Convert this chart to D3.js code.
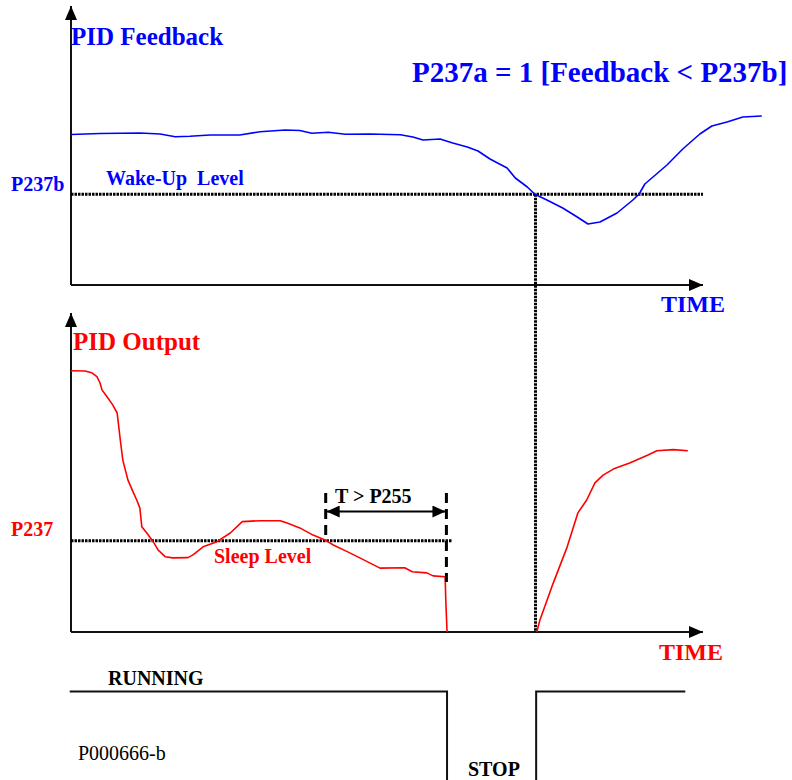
<!DOCTYPE html>
<html>
<head>
<meta charset="utf-8">
<script src="https://cdn.jsdelivr.net/npm/d3@7"></script>
<style>
  html, body { margin: 0; padding: 0; background: #fff; }
  svg { display: block; }
  text { font-family: "Liberation Serif", "Times New Roman", serif; white-space: pre; }
</style>
</head>
<body>
<div id="chart"></div>
<script>
// ---------------- DATA ----------------
// time axis: 0..100 (arbitrary time units), values in % of span
const feedbackTime = [0, 4.6, 10.9, 14.1, 16.5, 18.8, 22.0, 26.7, 29.9, 33.9, 36.2, 38.1, 40.7, 43.4, 47.3,
  52.1, 54.1, 55.7, 58.4, 60.4, 62.7, 64.4, 66.3, 69.0, 70.3, 72.2, 73.4, 75.3, 77.8, 80.1, 81.8,
  83.7, 86.4, 88.9, 89.9, 90.8, 94.3, 96.8, 99.5, 101.4, 103.8, 106.3, 109.3];
const feedbackValue = [60.2, 60.6, 60.8, 60.4, 59.3, 59.5, 60.0, 60.0, 61.3, 62.0, 61.8, 60.7, 61.1, 60.3, 60.4,
  60.1, 59.2, 58.0, 58.4, 56.8, 55.2, 53.6, 50.4, 46.8, 42.8, 39.2, 36.3, 34.0, 30.8, 27.2, 24.4,
  25.2, 28.8, 34.0, 36.4, 40.4, 48.0, 54.4, 60.4, 63.6, 65.2, 67.2, 67.6];

const outputTimeA = [0, 2.2, 3.3, 4.1, 4.6, 4.9, 5.7, 6.6, 7.3, 7.4, 7.8, 8.2, 9.0, 9.8, 10.4, 10.9, 11.2,
  12.0, 13.0, 13.8, 14.9, 16.1, 18.5, 19.3, 20.9, 23.1, 25.2, 27.1, 29.9, 33.1, 34.2, 36.2, 38.3,
  40.2, 41.5, 43.7, 45.7, 48.9, 52.8, 54.0, 56.3, 57.3, 59.2, 59.3, 59.5];
const outputValueA = [87.1, 87.0, 86.4, 85.1, 83.0, 80.7, 78.4, 75.7, 73.0, 71.3, 64.0, 57.3, 50.7, 46.8, 44.0, 41.3, 35.1,
  33.0, 30.1, 27.3, 25.1, 24.7, 24.8, 25.7, 28.4, 30.1, 33.0, 36.8, 37.1, 37.1, 36.3, 34.7, 32.3,
  30.7, 29.0, 26.8, 24.7, 21.3, 21.4, 20.1, 19.7, 18.7, 18.4, 10.7, 0];

const outputTimeB = [73.7, 74.2, 76.3, 78.5, 80.2, 81.6, 82.9, 84.2, 85.8, 88.4, 91.3, 92.7, 95.3, 97.6];
const outputValueB = [0, 4.0, 16.3, 28.3, 39.7, 44.0, 49.7, 52.3, 54.3, 56.3, 59.0, 60.4, 60.8, 60.4];

const wakeLevel = 36.3;      // P237b
const sleepLevel = 30.4;     // P237
const timerStart = 40.3;     // start of T > P255
const sleepTime = 59.4;      // drive stops
const wakeTime = 73.5;       // drive restarts
const sleepLineEnd = 60.3;
const axisEnd = 100;

const runTime  = [-0.2, 59.5, 59.5, 73.6, 73.6, 97.2];
const runState = [1, 1, 0, 0, 1, 1];

const labels = {
  fbTitle: "PID Feedback",
  condition: "P237a = 1 [Feedback < P237b]",
  time: "TIME",
  wake: "Wake-Up  Level",
  wakeParam: "P237b",
  outTitle: "PID Output",
  sleepParam: "P237",
  sleep: "Sleep Level",
  timer: "T > P255",
  running: "RUNNING",
  stop: "STOP",
  code: "P000666-b"
};

// ---------------- LAYOUT ----------------
const W = 792, H = 780;
const BLUE = "#0000ff", RED = "#ff0000", INK = "#000";

const svg = d3.select("#chart").append("svg").attr("width", W).attr("height", H);

const x = d3.scaleLinear().domain([0, 100]).range([71, 703]);
const yFb = d3.scaleLinear().domain([0, 100]).range([285, 35]);
const yOut = d3.scaleLinear().domain([0, 100]).range([632, 332]);
const yRun = d3.scaleLinear().domain([0, 1]).range([840, 691.5]);

const defs = svg.append("defs");
defs.append("marker").attr("id", "axArrow")
  .attr("viewBox", "0 0 14 12").attr("refX", 14).attr("refY", 6)
  .attr("markerUnits", "userSpaceOnUse")
  .attr("markerWidth", 14).attr("markerHeight", 12).attr("orient", "auto-start-reverse")
  .append("path").attr("d", "M0,0 L14,6 L0,12 Z").attr("fill", INK);
defs.append("marker").attr("id", "dimArrow")
  .attr("viewBox", "0 0 13 12").attr("refX", 13).attr("refY", 6)
  .attr("markerUnits", "userSpaceOnUse")
  .attr("markerWidth", 13).attr("markerHeight", 12).attr("orient", "auto-start-reverse")
  .append("path").attr("d", "M0,0 L13,6 L0,12 Z").attr("fill", INK);

// ---------- axes ----------
function axes(yScale, topPx) {
  const x0 = x(0), y0 = yScale(0);
  svg.append("line").attr("x1", x0).attr("y1", y0).attr("x2", x0).attr("y2", topPx)
    .attr("stroke", "#111").attr("stroke-width", 2).attr("marker-end", "url(#axArrow)");
  svg.append("line").attr("x1", x0).attr("y1", y0).attr("x2", x(axisEnd)).attr("y2", y0)
    .attr("stroke", "#111").attr("stroke-width", 2).attr("marker-end", "url(#axArrow)");
}
axes(yFb, 6);
axes(yOut, 313);

// ---------- dotted reference lines ----------
const dotted = sel => sel.attr("stroke", INK).attr("stroke-width", 3).attr("stroke-dasharray", "2.5,1").attr("fill", "none");

svg.append("line").attr("x1", x(0)).attr("x2", x(axisEnd))
  .attr("y1", yFb(wakeLevel)).attr("y2", yFb(wakeLevel)).call(dotted);
svg.append("line").attr("x1", x(0)).attr("x2", x(sleepLineEnd))
  .attr("y1", yOut(sleepLevel)).attr("y2", yOut(sleepLevel)).call(dotted);
svg.append("line").attr("x1", x(wakeTime)).attr("x2", x(wakeTime))
  .attr("y1", yFb(wakeLevel)).attr("y2", yOut(0)).call(dotted);

// ---------- curves ----------
const line = (ys) => d3.line().x(d => x(d[0])).y(d => ys(d[1]));

svg.append("path").datum(d3.zip(feedbackTime, feedbackValue))
  .attr("d", line(yFb)).attr("fill", "none").attr("stroke", BLUE).attr("stroke-width", 1.6)
  .attr("stroke-linejoin", "round");

svg.append("path").datum(d3.zip(outputTimeA, outputValueA))
  .attr("d", line(yOut)).attr("fill", "none").attr("stroke", RED).attr("stroke-width", 1.6)
  .attr("stroke-linejoin", "round");
svg.append("path").datum(d3.zip(outputTimeB, outputValueB))
  .attr("d", line(yOut)).attr("fill", "none").attr("stroke", RED).attr("stroke-width", 1.6)
  .attr("stroke-linejoin", "round");

// ---------- T > P255 bracket ----------
const dashed = sel => sel.attr("stroke", INK).attr("stroke-width", 3).attr("stroke-dasharray", "10,6");
svg.append("line").attr("x1", x(timerStart)).attr("x2", x(timerStart))
  .attr("y1", 493).attr("y2", 535).call(dashed);
svg.append("line").attr("x1", x(sleepTime)).attr("x2", x(sleepTime))
  .attr("y1", 493).attr("y2", 582).call(dashed);
svg.append("line").attr("x1", x(timerStart) + 1).attr("x2", x(sleepTime) - 1)
  .attr("y1", 511.5).attr("y2", 511.5)
  .attr("stroke", INK).attr("stroke-width", 2)
  .attr("marker-start", "url(#dimArrow)").attr("marker-end", "url(#dimArrow)");

// ---------- running / stop signal ----------
svg.append("path").datum(d3.zip(runTime, runState))
  .attr("d", d3.line().x(d => x(d[0])).y(d => yRun(d[1])))
  .attr("fill", "none").attr("stroke", "#111").attr("stroke-width", 2);

// ---------- texts ----------
function txt(s, px, py, size, color, weight) {
  return svg.append("text").attr("x", px).attr("y", py).text(s)
    .attr("font-size", size).attr("fill", color).attr("font-weight", weight || "bold");
}
txt(labels.fbTitle, 71, 45, 25, BLUE);
txt(labels.condition, 412, 82, 29, BLUE);
txt(labels.time, 661, 312, 24, BLUE);
txt(labels.wake, 106, yFb(wakeLevel) - 9, 20, BLUE);
txt(labels.wakeParam, 11, yFb(wakeLevel) - 3, 20, BLUE);

txt(labels.outTitle, 73, 350, 25, RED);
txt(labels.sleepParam, 11, yOut(sleepLevel) - 5, 20, RED);
txt(labels.sleep, 214, yOut(sleepLevel) + 22, 20, RED);
txt(labels.timer, 335, 503, 20, INK);
txt(labels.time, 659, 660, 24, RED);

txt(labels.running, 108, 685, 20, INK);
txt(labels.stop, 468, 776, 20, INK);
txt(labels.code, 78, 760, 20, INK, "normal");
</script>
</body>
</html>
